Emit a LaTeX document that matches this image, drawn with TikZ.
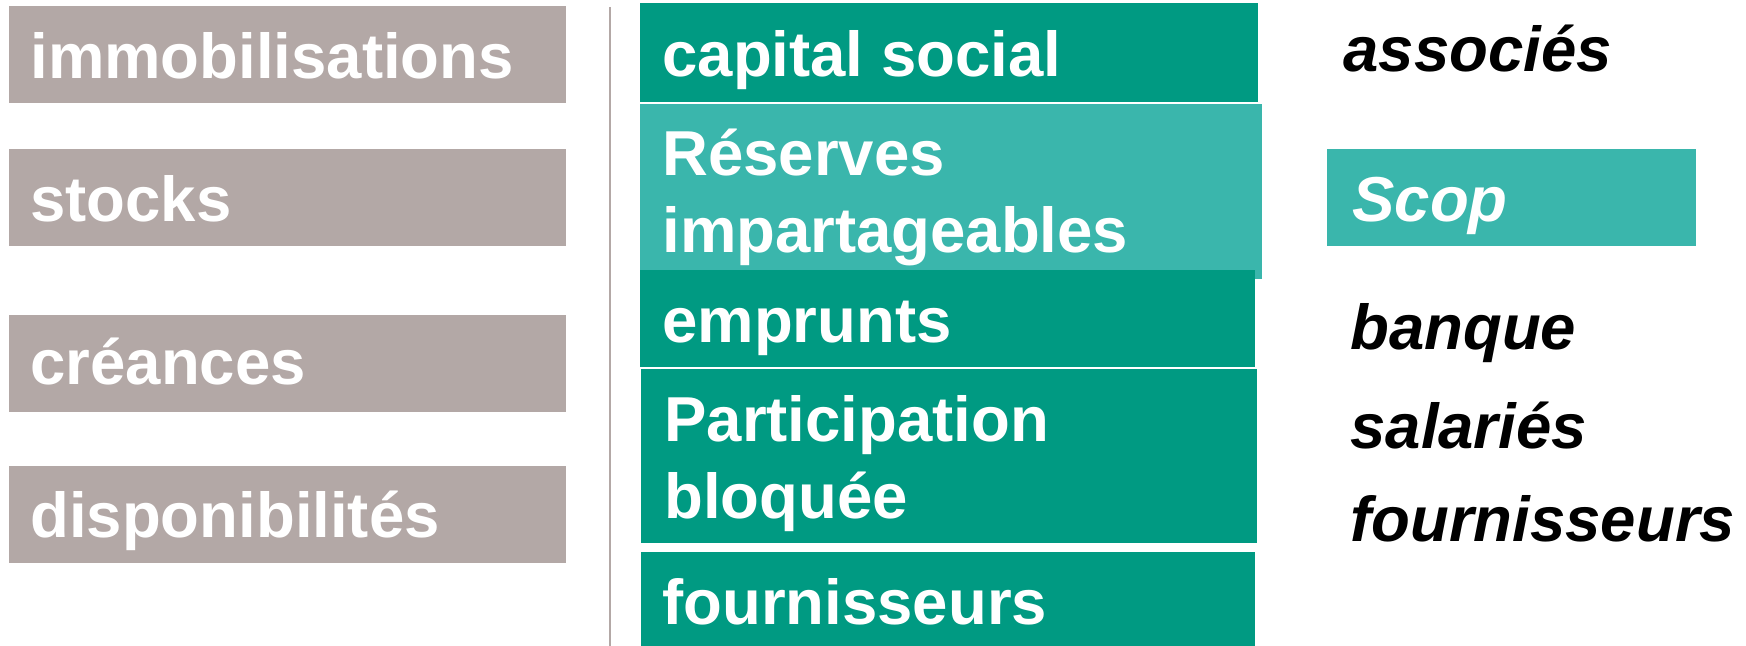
\documentclass[tikz,border=0pt]{standalone}
\usepackage{fontspec}
\setmainfont{Liberation Sans}

\definecolor{actifgris}{RGB}{179,168,166}
\definecolor{passifvert}{RGB}{0,154,130}
\definecolor{passifclair}{RGB}{58,182,172}

\tikzset{
  poste/.style={anchor=base west, inner sep=0pt, text=white,
    font=\fontsize{31.75}{38}\selectfont\bfseries},
  tiers/.style={poste, text=black,
    font=\fontsize{31.75}{38}\selectfont\bfseries\itshape},
}

\begin{document}
\begin{tikzpicture}[x=0.5pt,y=-0.5pt]
    \useasboundingbox (0,0) rectangle (1746,646);

    % actif
    \fill[actifgris] (9,6) rectangle (566,103);
    \fill[actifgris] (9,149) rectangle (566,246);
    \fill[actifgris] (9,315) rectangle (566,412);
    \fill[actifgris] (9,466) rectangle (566,563);
    \node[poste] (immo) at (30,79) {immobilisations};
    \node[poste] (stocks) at (30,222) {stocks};
    \node[poste] (creances) at (30,385) {créances};
    \node[poste] (dispo) at (30,538) {disponibilités};

    % separation
    \coordinate (septop) at (610,7);
    \coordinate (sepbot) at (610,646);
    \draw[actifgris, line width=0.8pt] (septop) -- (sepbot);

    % passif
    \fill[passifvert] (640,3) rectangle (1258,102);
    \fill[passifclair] (640,104) rectangle (1262,279);
    \fill[passifvert] (640,270) rectangle (1255,367);
    \fill[passifvert] (641,369) rectangle (1257,543);
    \fill[passifvert] (641,552) rectangle (1255,646);
    \node[poste] (capital) at (662,77) {capital social};
    \node[poste] (reserves) at (662,176) {Réserves};
    \node[poste] (impart) at (662,253) {impartageables};
    \node[poste] (emprunts) at (662,343) {emprunts};
    \node[poste] (particip) at (664,442) {Participation};
    \node[poste] (bloquee) at (664,518) {bloquée};
    \node[poste] (fourn) at (662,624) {fournisseurs};

    % tiers
    \fill[passifclair] (1327,149) rectangle (1696,246);
    \node[tiers] (associes) at (1343,72) {associés};
    \node[tiers, text=white] (scop) at (1352,222) {Scop};
    \node[tiers] (banque) at (1350,350) {banque};
    \node[tiers] (salaries) at (1350,449) {salariés};
    \node[tiers] (fournt) at (1350,542) {fournisseurs};
\end{tikzpicture}
\end{document}
